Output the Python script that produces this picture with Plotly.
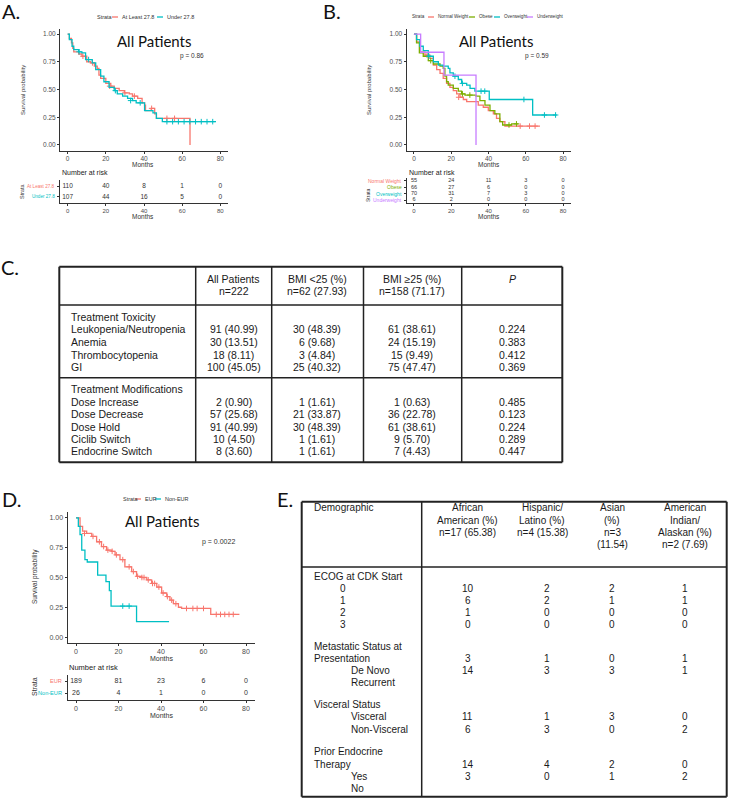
import plotly.graph_objects as go

W, H = 730, 802
def X(px): return px / W
def Y(py): return 1 - py / H

RED, TEAL, GREEN, PURPLE = "#F8766D", "#00BFC4", "#7CAE00", "#C77CFF"
KM_FONT = "Liberation Sans"
TITLE_FONT = "Lato"

# ---------------- Panel A data ----------------
a_hi_t = [0, 0.9, 2.0, 2.7, 3.2, 5.8, 7.5, 10, 12, 14, 15.5, 16.4, 17.3, 20, 22.6, 24.4, 27, 29.7, 32.3, 34, 36.7, 39, 40.3, 40.8, 43.8, 45.6, 46.5, 64.1, 64.1]
a_hi_s = [1.0, 0.96, 0.92, 0.87, 0.84, 0.82, 0.80, 0.75, 0.74, 0.71, 0.69, 0.63, 0.60, 0.555, 0.53, 0.51, 0.49, 0.47, 0.46, 0.44, 0.42, 0.38, 0.36, 0.31, 0.33, 0.28, 0.24, 0.24, 0.0]
a_hi_ct = [8, 13, 22, 30, 35, 44, 52, 56]
a_hi_cs = [0.80, 0.74, 0.53, 0.47, 0.44, 0.33, 0.24, 0.24]
a_lo_t = [0, 0.9, 2.3, 3.2, 5.8, 7.5, 9.4, 12.9, 14.7, 17.3, 19, 21.7, 24.4, 26, 28.8, 31.4, 34, 35.9, 40.3, 44.7, 46.5, 49.6, 77.7]
a_lo_s = [1.0, 0.95, 0.89, 0.86, 0.84, 0.83, 0.77, 0.74, 0.68, 0.62, 0.57, 0.52, 0.49, 0.46, 0.44, 0.42, 0.40, 0.38, 0.31, 0.29, 0.24, 0.21, 0.21]
a_lo_ct = [6, 11, 25, 33, 38, 52, 55, 58, 61, 64, 67, 70, 73, 76]
a_lo_cs = [0.84, 0.77, 0.49, 0.40, 0.38, 0.21, 0.21, 0.21, 0.21, 0.21, 0.21, 0.21, 0.21, 0.21]
a_strata = ["At Least 27.8", "Under 27.8"]
a_risk = [[110, 40, 8, 1, 0], [107, 44, 16, 5, 0]]

# ---------------- Panel B data ----------------
b_nw_t = [0, 1.4, 3.2, 5.9, 8.6, 10.4, 12.2, 14, 15.7, 17.5, 19.3, 21.1, 22.9, 24.7, 26.5, 28.3, 34.5, 37.2, 39.9, 42.6, 44.3, 46.1, 48.8, 67.6]
b_nw_s = [1.0, 0.93, 0.84, 0.81, 0.78, 0.72, 0.68, 0.645, 0.60, 0.555, 0.52, 0.49, 0.46, 0.43, 0.41, 0.39, 0.36, 0.34, 0.31, 0.28, 0.24, 0.21, 0.17, 0.17]
b_nw_ct = [7, 24, 57, 62, 65]
b_nw_cs = [0.81, 0.43, 0.17, 0.17, 0.17]
b_ob_t = [0, 1.4, 2.9, 5, 7.7, 10.4, 14, 15.7, 16.6, 17.5, 18.4, 21.1, 23.8, 25.6, 27.4, 33.3, 35.4, 38.1, 40.8, 43.4, 46.1, 47.6, 52.4, 56]
b_ob_s = [1.0, 0.92, 0.83, 0.80, 0.76, 0.73, 0.71, 0.69, 0.62, 0.57, 0.54, 0.51, 0.485, 0.46, 0.45, 0.44, 0.40, 0.36, 0.31, 0.28, 0.21, 0.18, 0.19, 0.19]
b_ob_ct = [9, 26, 30, 51, 55]
b_ob_cs = [0.76, 0.46, 0.45, 0.18, 0.19]
b_ov_t = [0, 1.4, 3.2, 5, 7.7, 10.4, 13.1, 15.7, 18.4, 19.3, 21.1, 23.8, 25.6, 28.3, 30.1, 32.7, 40.4, 63.7, 76.6]
b_ov_s = [1.0, 0.95, 0.89, 0.85, 0.80, 0.75, 0.72, 0.71, 0.69, 0.65, 0.62, 0.59, 0.555, 0.54, 0.51, 0.485, 0.41, 0.27, 0.27]
b_ov_ct = [8, 22, 26, 36, 38, 59, 70, 76]
b_ov_cs = [0.80, 0.62, 0.555, 0.485, 0.485, 0.41, 0.27, 0.27]
b_uw_t = [0, 3.6, 16.1, 33.3, 33.3]
b_uw_s = [1.0, 0.836, 0.63, 0.63, 0.0]
b_strata = ["Normal Weight", "Obese", "Overweight", "Underweight"]
b_risk = [[55, 24, 11, 3, 0], [66, 27, 6, 0, 0], [70, 31, 7, 3, 0], [6, 2, 0, 0, 0]]

# ---------------- Panel D data ----------------
d_eur_t = [0, 1.9, 3.1, 5, 7.4, 9.7, 12, 14.4, 16.8, 18.4, 20.7, 23, 26.2, 28.5, 30.9, 33.3, 35.6, 38, 40.3, 42.7, 44.2, 45.8, 48.2, 49.7, 63.4, 76.9]
d_eur_s = [1.0, 0.93, 0.89, 0.87, 0.845, 0.80, 0.76, 0.73, 0.72, 0.69, 0.65, 0.59, 0.55, 0.51, 0.50, 0.48, 0.45, 0.42, 0.37, 0.34, 0.31, 0.28, 0.25, 0.24, 0.19, 0.19]
d_eur_ct = [4, 8, 11, 13, 15, 17, 19, 22, 25, 27, 29, 31, 32, 34, 36, 37, 39, 41, 43, 45, 47, 52, 55, 57, 60, 66, 68, 70, 72, 74]
d_eur_cs = [0.87, 0.845, 0.80, 0.76, 0.73, 0.72, 0.69, 0.65, 0.59, 0.55, 0.51, 0.50, 0.50, 0.48, 0.45, 0.45, 0.42, 0.37, 0.34, 0.31, 0.28, 0.24, 0.24, 0.24, 0.24, 0.19, 0.19, 0.19, 0.19, 0.19]
d_non_t = [0, 1.1, 1.9, 2.7, 4.2, 5.3, 10.2, 14.1, 15.7, 16.5, 28.5, 43.8]
d_non_s = [1.0, 0.93, 0.86, 0.73, 0.65, 0.63, 0.52, 0.465, 0.39, 0.26, 0.13, 0.13]
d_non_ct = [22, 25]
d_non_cs = [0.26, 0.26]
d_strata = ["EUR", "Non-EUR"]
d_risk = [[189, 81, 23, 6, 0], [26, 4, 1, 0, 0]]

risk_times = [0, 20, 40, 60, 80]
x_ticks = [0, 20, 40, 60, 80]
y_ticks = [0, 0.25, 0.5, 0.75, 1.0]
y_ticktext = ["0.00", "0.25", "0.50", "0.75", "1.00"]

# ---------------- Table C data ----------------
c_head = [["All Patients", "n=222"], ["BMI <25 (%)", "n=62 (27.93)"], ["BMI ≥25 (%)", "n=158 (71.17)"], ["<i>P</i>"]]
c_labels1 = ["Treatment Toxicity", "Leukopenia/Neutropenia", "Anemia", "Thrombocytopenia", "GI"]
c_all1 = ["", "91 (40.99)", "30 (13.51)", "18 (8.11)", "100 (45.05)"]
c_lo1 = ["", "30 (48.39)", "6 (9.68)", "3 (4.84)", "25 (40.32)"]
c_hi1 = ["", "61 (38.61)", "24 (15.19)", "15 (9.49)", "75 (47.47)"]
c_p1 = ["", "0.224", "0.383", "0.412", "0.369"]
c_labels2 = ["Treatment Modifications", "Dose Increase", "Dose Decrease", "Dose Hold", "Ciclib Switch", "Endocrine Switch"]
c_all2 = ["", "2 (0.90)", "57 (25.68)", "91 (40.99)", "10 (4.50)", "8 (3.60)"]
c_lo2 = ["", "1 (1.61)", "21 (33.87)", "30 (48.39)", "1 (1.61)", "1 (1.61)"]
c_hi2 = ["", "1 (0.63)", "36 (22.78)", "61 (38.61)", "9 (5.70)", "7 (4.43)"]
c_p2 = ["", "0.485", "0.123", "0.224", "0.289", "0.447"]

# ---------------- Table E data ----------------
e_head = [["African", "American (%)", "n=17 (65.38)"], ["Hispanic/", "Latino (%)", "n=4 (15.38)"],
          ["Asian", "(%)", "n=3", "(11.54)"], ["American", "Indian/", "Alaskan (%)", "n=2 (7.69)"]]
e_labels = ["ECOG at CDK Start", "0", "1", "2", "3", "Metastatic Status at", "Presentation", "De Novo", "Recurrent",
            "Visceral Status", "Visceral", "Non-Visceral", "Prior Endocrine", "Therapy", "Yes", "No"]
e_indent = [0, 1, 1, 1, 1, 0, 0, 2, 2, 0, 2, 2, 0, 0, 2, 2]
e_vals = [None, [10, 2, 2, 1], [6, 2, 1, 1], [1, 0, 0, 0], [0, 0, 0, 0], None, [3, 1, 0, 1], [14, 3, 3, 1], None,
          None, [11, 1, 3, 0], [6, 3, 0, 2], None, [14, 4, 2, 0], [3, 0, 1, 2], None]

fig = go.Figure()

def km(t, s, color, xa, ya, ct=None, cs=None):
    fig.add_trace(go.Scatter(x=t, y=s, mode="lines", line=dict(color=color, width=1.3, shape="hv"),
                             xaxis=xa, yaxis=ya, showlegend=False, hoverinfo="skip"))
    if ct:
        fig.add_trace(go.Scatter(x=ct, y=cs, mode="markers",
                                 marker=dict(symbol="cross-thin", size=4, line=dict(color=color, width=1)),
                                 xaxis=xa, yaxis=ya, showlegend=False, hoverinfo="skip"))

def risk(rows, xa, ya, fs):
    n = len(rows)
    for i, r in enumerate(rows):
        fig.add_trace(go.Scatter(x=risk_times, y=[n - i] * len(r), mode="text", text=[str(v) for v in r],
                                 textfont=dict(family=KM_FONT, size=fs, color="#333"),
                                 xaxis=xa, yaxis=ya, showlegend=False, hoverinfo="skip"))

km(a_hi_t, a_hi_s, RED, "x", "y", a_hi_ct, a_hi_cs)
km(a_lo_t, a_lo_s, TEAL, "x", "y", a_lo_ct, a_lo_cs)
risk(a_risk, "x2", "y2", 6.5)
km(b_nw_t, b_nw_s, RED, "x3", "y3", b_nw_ct, b_nw_cs)
km(b_ob_t, b_ob_s, GREEN, "x3", "y3", b_ob_ct, b_ob_cs)
km(b_ov_t, b_ov_s, TEAL, "x3", "y3", b_ov_ct, b_ov_cs)
km(b_uw_t, b_uw_s, PURPLE, "x3", "y3")
risk(b_risk, "x4", "y4", 5.5)
km(d_eur_t, d_eur_s, RED, "x5", "y5", d_eur_ct, d_eur_cs)
km(d_non_t, d_non_s, TEAL, "x5", "y5", d_non_ct, d_non_cs)
risk(d_risk, "x6", "y6", 7)

axcol = "#333333"
def xax(dom, anchor, fs):
    return dict(domain=[X(dom[0]), X(dom[1])], range=[-4, 84], tickvals=x_ticks, showline=True, linecolor=axcol,
                linewidth=1, ticks="outside", ticklen=2, tickcolor=axcol, showgrid=False, zeroline=False,
                anchor=anchor, tickfont=dict(family=KM_FONT, size=fs, color="#4d4d4d"), fixedrange=True)
def yax(dom, anchor, fs):
    return dict(domain=[Y(dom[1]), Y(dom[0])], range=[-0.05, 1.05], tickvals=y_ticks, ticktext=y_ticktext,
                showline=True, linecolor=axcol, linewidth=1, ticks="outside", ticklen=2, tickcolor=axcol,
                showgrid=False, zeroline=False, anchor=anchor,
                tickfont=dict(family=KM_FONT, size=fs, color="#4d4d4d"), fixedrange=True)
def ryax(dom, anchor, n):
    pad = 0.55 if n == 2 else 0.47
    return dict(domain=[Y(dom[1]), Y(dom[0])], range=[1 - pad, n + pad], tickvals=list(range(1, n + 1)),
                showticklabels=False, showline=True, linecolor=axcol, linewidth=1, ticks="outside", ticklen=2,
                tickcolor=axcol, showgrid=False, zeroline=False, anchor=anchor, fixedrange=True)

fig.update_layout(
    width=W, height=H, margin=dict(l=0, r=0, t=0, b=0), paper_bgcolor="white", plot_bgcolor="white",
    showlegend=False,
    xaxis=xax((60, 228), "y", 6.5), yaxis=yax((28.5, 150.5), "x", 6.5),
    xaxis2=xax((60, 228), "y2", 6), yaxis2=ryax((180, 203), "x2", 2),
    xaxis3=xax((406.5, 570.5), "y3", 6.5), yaxis3=yax((28.5, 150.5), "x3", 6.5),
    xaxis4=xax((406.5, 570.5), "y4", 6), yaxis4=ryax((178, 203), "x4", 4),
    xaxis5=xax((67.5, 254.5), "y5", 7), yaxis5=yax((512, 643), "x5", 7),
    xaxis6=xax((67.5, 254.5), "y6", 7), yaxis6=ryax((674.5, 700), "x6", 2),
)

ann = []
shapes = []
def T(px, py, text, size, color="#222", family=KM_FONT, xa="center", angle=0):
    ann.append(dict(x=X(px), y=Y(py), xref="paper", yref="paper", text=text, showarrow=False,
                    font=dict(family=family, size=size, color=color), xanchor=xa, yanchor="middle",
                    textangle=angle))
def L(x0, y0, x1, y1, color="#222", w=1.5):
    shapes.append(dict(type="line", xref="paper", yref="paper", x0=X(x0), y0=Y(y0), x1=X(x1), y1=Y(y1),
                       line=dict(color=color, width=w)))

for lab, px, py in [("A.", 11, 11), ("B.", 332, 11), ("C.", 10, 267), ("D.", 11, 499), ("E.", 285, 499)]:
    T(px, py, lab, 20, "#111", TITLE_FONT)

def legend(y, items, fs):
    T(items[0][0], y, "Strata", fs, "#333", xa="left")
    for (lx, lab, col) in items[1:]:
        L(lx, y, lx + 6, y, col, 1.3)
        T(lx + 8, y, lab, fs, "#333", xa="left")
legend(17, [(95, None, None), (112, a_strata[0], RED), (157, a_strata[1], TEAL)], 5.5)
legend(17, [(410, None, None), (428, b_strata[0], RED), (469, b_strata[1], GREEN),
            (494, b_strata[2], TEAL), (527, b_strata[3], PURPLE)], 4.6)
legend(499, [(121, None, None), (135, d_strata[0], RED), (155, d_strata[1], TEAL)], 5.5)

T(154, 41, "All Patients", 15, "#111", TITLE_FONT)
T(496, 41, "All Patients", 15, "#111", TITLE_FONT)
T(162, 521, "All Patients", 15, "#111", TITLE_FONT)
T(192, 56, "p = 0.86", 6.5, "#333")
T(537, 56, "p = 0.59", 6.5, "#333")
T(218, 542, "p = 0.0022", 7, "#333")
T(23, 90, "Survival probability", 6, "#333", angle=-90)
T(369, 90, "Survival probability", 6, "#333", angle=-90)
T(35, 577, "Survival probability", 6.5, "#333", angle=-90)
for (mx, my, fs) in [(143, 164.5, 6.5), (143, 216, 6.5), (488.5, 164.5, 6.5), (488.5, 216, 6.5), (161, 658, 7), (161, 715, 7)]:
    T(mx, my, "Months", fs, "#333")
T(60, 173, "Number at risk", 7, "#222", xa="left")
T(407, 173, "Number at risk", 7, "#222", xa="left")
T(67, 667, "Number at risk", 7.5, "#222", xa="left")
T(22, 191, "Strata", 5.5, "#333", angle=-90)
T(368, 195, "Strata", 5, "#333", angle=-90)
T(34, 687, "Strata", 7, "#333", angle=-90)
for lab, py, col in zip(a_strata, [186, 197], [RED, TEAL]):
    T(57, py, lab, 4.6, col, xa="right")
for lab, py, col in zip(b_strata, [181, 187.3, 194, 200], [RED, GREEN, TEAL, PURPLE]):
    T(404, py, lab, 5, col, xa="right")
for lab, py, col in zip(d_strata, [681, 693], [RED, TEAL]):
    T(64, py, lab, 5.6, col, xa="right")

# ---------------- Table C ----------------
TC = "#1a1a1a"
CF = 10.5
L(59.3, 266.7, 562.3, 266.7, "#222", 2); L(59.3, 462.3, 562.3, 462.3, "#222", 2)
L(59.3, 266.7, 59.3, 462.3, "#222", 2); L(562.3, 266.7, 562.3, 462.3, "#222", 2)
for cx in [195.7, 271.7, 363.5, 461.7]:
    L(cx, 266.7, cx, 462.3, "#222", 1.5)
L(59.3, 305, 562.3, 305, "#222", 1.5)
L(59.3, 377.7, 562.3, 377.7, "#222", 1.5)
c_cols = [233.5, 317, 412, 512]
for cx, h in zip(c_cols, c_head):
    for k, line in enumerate(h):
        T(cx, 279 + 12 * k, line, CF, TC)
rows1_y = [316.7, 329, 342, 354.7, 367.3]
rows2_y = [389, 401.7, 414, 426.7, 439, 451.3]
for ys, labs, cols in [(rows1_y, c_labels1, [c_all1, c_lo1, c_hi1, c_p1]), (rows2_y, c_labels2, [c_all2, c_lo2, c_hi2, c_p2])]:
    for i, (py, lab) in enumerate(zip(ys, labs)):
        T(69, py, lab, CF, TC, xa="left")
        for cx, col in zip(c_cols, cols):
            if col[i]:
                T(cx, py, col[i], CF, TC)

# ---------------- Table E ----------------
EF = 10
E_TOP, E_HEAD, E_BOT, E_L, E_SEP, E_R = 501.7, 567, 796.7, 301.7, 421.7, 726.7
L(E_L, E_TOP, E_R, E_TOP, "#222", 2); L(E_L, E_BOT, E_R, E_BOT, "#222", 2)
L(E_L, E_TOP, E_L, E_BOT, "#222", 2); L(E_R, E_TOP, E_R, E_BOT, "#222", 2)
L(E_SEP, E_TOP, E_SEP, E_BOT, "#222", 1.5)
L(E_L, E_HEAD, E_R, E_HEAD, "#222", 1.5)
T(311.7, 508, "Demographic", EF, TC, xa="left")
e_head_x = [467, 542, 612, 685]
for cx, h in zip(e_head_x, e_head):
    for k, line in enumerate(h):
        T(cx, 508 + 12 * k, line, EF, TC)
e_rows_y = [576, 588, 600, 612, 624, 646, 658, 670, 682, 704, 716.5, 729, 751.5, 764, 776, 788.5]
e_val_x = [467.5, 546.7, 611.7, 685]
for lab, ind, py, vals in zip(e_labels, e_indent, e_rows_y, e_vals):
    if ind == 1:
        T(343.3, py, lab, EF, TC)
    else:
        T(311.7 if ind == 0 else 349.3, py, lab, EF, TC, xa="left")
    if vals:
        for vx, v in zip(e_val_x, vals):
            T(vx, py, str(v), EF, TC)

fig.update_layout(annotations=ann, shapes=shapes)
fig.write_html("out.html", config={"displayModeBar": False, "staticPlot": True},
               post_script="document.body.style.margin='0px';document.body.style.overflow='hidden';")
